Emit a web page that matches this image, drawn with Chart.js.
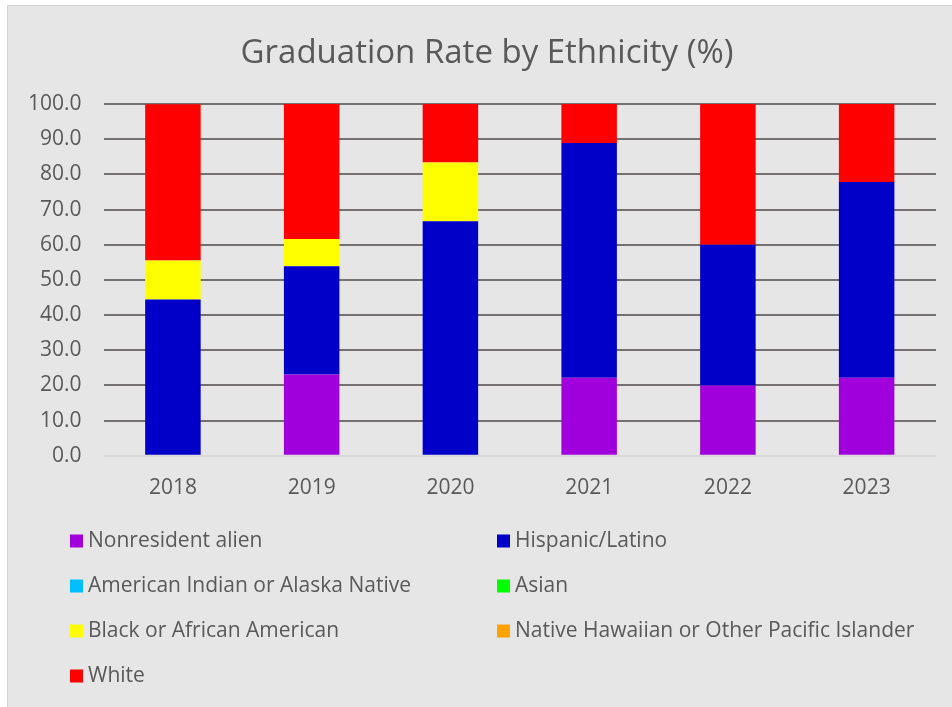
<!DOCTYPE html>
<html>
<head>
<meta charset="utf-8">
<script src="https://cdn.jsdelivr.net/npm/chart.js@4/dist/chart.umd.min.js"></script>
<style>
  html, body { margin: 0; padding: 0; background: #ffffff; }
  #wrap {
    position: absolute; left: 7px; top: 5px;
    width: 945px; height: 702px;
    background: #e6e6e6;
    border-left: 1px solid #d4d4d4;
    border-top: 1px solid #d4d4d4;
  }
  canvas { display: block; }
</style>
</head>
<body>
<div id="wrap"><canvas id="grad-chart" width="945" height="702"></canvas></div>
<script>
// Graduation rate by ethnicity, stacked columns (%)
const chartTitle = 'Graduation Rate by Ethnicity (%)';
const years = ['2018', '2019', '2020', '2021', '2022', '2023'];

const nonresidentAlien = [0, 23.1, 0, 22.2, 20.0, 22.2];
const hispanicLatino   = [44.4, 30.8, 66.7, 66.7, 40.0, 55.6];
const americanIndian   = [0, 0, 0, 0, 0, 0];
const asian            = [0, 0, 0, 0, 0, 0];
const blackAfrican     = [11.1, 7.7, 16.7, 0, 0, 0];
const nativeHawaiian   = [0, 0, 0, 0, 0, 0];
const white            = [44.4, 38.5, 16.7, 11.1, 40.0, 22.2];

const seriesNames = [
    'Nonresident alien',
    'Hispanic/Latino',
    'American Indian or Alaska Native',
    'Asian',
    'Black or African American',
    'Native Hawaiian or Other Pacific Islander',
    'White'
];
const seriesValues = [nonresidentAlien, hispanicLatino, americanIndian, asian, blackAfrican, nativeHawaiian, white];
const seriesColors = ['#a000dc', '#0000c8', '#00bfff', '#00ff00', '#ffff00', '#ffa200', '#ff0000'];

const yTicks = [0, 10, 20, 30, 40, 50, 60, 70, 80, 90, 100];

const FONT = '"Open Sans", "Noto Sans", sans-serif';
const textColor = '#595959';

// Excel-style title and two-column legend, drawn straight on the canvas
const excelFramePlugin = {
    id: 'excelFrame',
    afterDraw(chart) {
        const ctx = chart.ctx;
        ctx.save();

        // title, centred on the whole chart box
        ctx.font = '33px ' + FONT;
        ctx.fillStyle = textColor;
        ctx.textAlign = 'center';
        ctx.textBaseline = 'middle';
        ctx.fillText(chartTitle, 479, 48);

        // legend
        const colX = [62, 489];
        const rowY = 535;
        const rowGap = 45;
        ctx.font = '21px ' + FONT;
        ctx.textAlign = 'left';
        chart.data.datasets.forEach((ds, i) => {
            const x = colX[i % 2];
            const y = rowY + Math.floor(i / 2) * rowGap;
            ctx.fillStyle = ds.backgroundColor;
            ctx.fillRect(x, y - 6.5, 13, 13);
            ctx.fillStyle = textColor;
            ctx.fillText(ds.label, x + 18, y);
        });
        ctx.restore();
    }
};

const datasets = seriesNames.map((name, i) => ({
    label: name,
    data: seriesValues[i],
    backgroundColor: seriesColors[i],
    borderWidth: 0,
    categoryPercentage: 1.0,
    barPercentage: 0.4
}));

const canvas = document.getElementById('grad-chart');
new Chart(canvas, {
    type: 'bar',
    data: { labels: years, datasets: datasets },
    plugins: [excelFramePlugin],
    options: {
        responsive: false,
        animation: false,
        layout: { padding: { left: -2, right: 17, top: 98, bottom: 195 } },
        plugins: {
            legend: { display: false },
            tooltip: { enabled: false },
            title: { display: false }
        },
        scales: {
            x: {
                stacked: true,
                grid: { display: false },
                border: { display: false },
                ticks: {
                    color: textColor,
                    font: { family: FONT, size: 21 },
                    padding: 12
                }
            },
            y: {
                stacked: true,
                min: 0,
                max: 100,
                afterBuildTicks(axis) {
                    axis.ticks = yTicks.map(v => ({ value: v }));
                },
                ticks: {
                    color: textColor,
                    font: { family: FONT, size: 21 },
                    padding: 22,
                    callback: v => Number(v).toFixed(1)
                },
                grid: {
                    color: ctx => ctx.tick && ctx.tick.value === 0 ? '#d9d9d9' : '#767171',
                    lineWidth: 2,
                    drawTicks: false
                },
                border: { display: false }
            }
        }
    }
});
</script>
</body>
</html>
